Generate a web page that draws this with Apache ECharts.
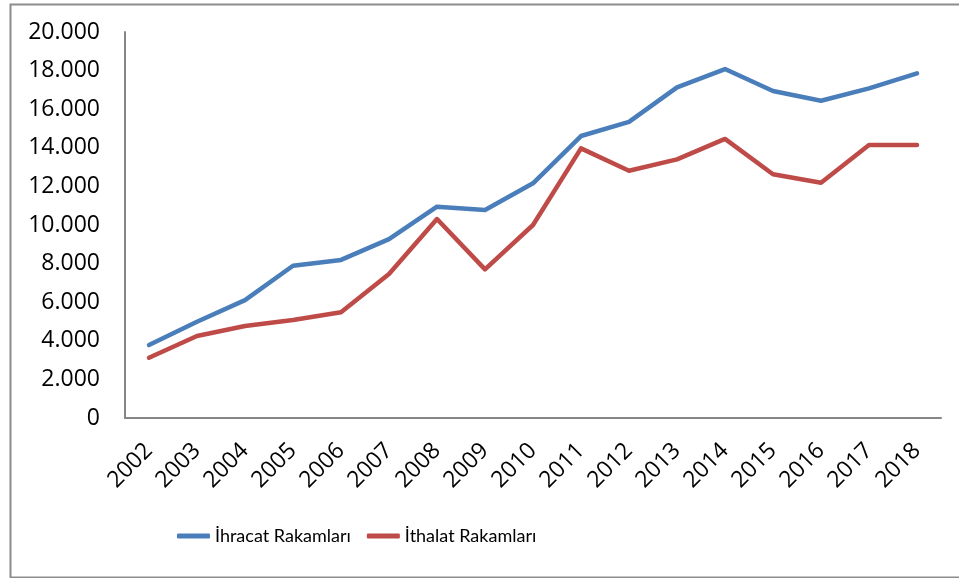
<!DOCTYPE html>
<html>
<head>
<meta charset="utf-8">
<script src="https://cdn.jsdelivr.net/npm/echarts@6/dist/echarts.min.js"></script>
<style>
  html, body { margin: 0; padding: 0; background: #fff; }
  #chart { width: 959px; height: 578px; }
</style>
</head>
<body>
<div id="chart"></div>
<script>
// Years on the category axis
const years = ['2002', '2003', '2004', '2005', '2006', '2007', '2008', '2009', '2010',
               '2011', '2012', '2013', '2014', '2015', '2016', '2017', '2018'];

// Export figures
const ihracat = [3780, 4990, 6110, 7890, 8190, 9270, 10950, 10780, 12160,
                 14610, 15340, 17130, 18080, 16940, 16440, 17080, 17860];

// Import figures
const ithalat = [3120, 4250, 4770, 5080, 5480, 7460, 10310, 7700, 10000,
                 13970, 12810, 13400, 14460, 12630, 12190, 14150, 14150];

// Value axis ticks
const yTicks = { min: 0, max: 20000, step: 2000 };

const seriesNames = ['İhracat Rakamları', 'İthalat Rakamları'];
const colors = ['#4a7ebb', '#be4b48'];

// Thousands separated with a dot
function fmt(v) {
  return String(v).replace(/\B(?=(\d{3})+(?!\d))/g, '.');
}

const chart = echarts.init(document.getElementById('chart'), null, { renderer: 'canvas' });

chart.setOption({
  animation: false,
  backgroundColor: '#ffffff',
  graphic: [{
    type: 'rect',
    left: 8, top: 2,
    shape: { width: 960, height: 573 },
    style: { fill: 'none', stroke: '#8c8c8c', lineWidth: 2 },
    z: -1
  }],
  grid: { left: 125, right: 18, top: 32, bottom: 160, containLabel: false },
  legend: {
    left: 177,
    top: 527,
    padding: 0,
    itemGap: 16,
    itemWidth: 33,
    itemHeight: 5,
    icon: 'roundRect',
    data: seriesNames,
    textStyle: {
      fontFamily: 'Lato, "Open Sans", sans-serif',
      fontSize: 18,
      color: '#000'
    }
  },
  xAxis: {
    type: 'category',
    data: years,
    boundaryGap: true,
    axisLine: { show: true, lineStyle: { color: '#868686', width: 2 } },
    axisTick: { show: false },
    axisLabel: {
      rotate: 45,
      margin: 29,
      interval: 0,
      color: '#000',
      fontFamily: '"Open Sans", sans-serif',
      fontSize: 23
    },
    splitLine: { show: false }
  },
  yAxis: {
    type: 'value',
    min: yTicks.min,
    max: yTicks.max,
    interval: yTicks.step,
    axisLine: { show: true, lineStyle: { color: '#868686', width: 2 } },
    axisTick: { show: false },
    splitLine: { show: false },
    axisLabel: {
      margin: 25,
      color: '#000',
      fontFamily: '"Open Sans", sans-serif',
      fontSize: 23,
      formatter: fmt
    }
  },
  series: [
    {
      name: seriesNames[0],
      type: 'line',
      data: ihracat,
      symbol: 'none',
      color: colors[0],
      lineStyle: { width: 4.5, color: colors[0], cap: 'round', join: 'round' }
    },
    {
      name: seriesNames[1],
      type: 'line',
      data: ithalat,
      symbol: 'none',
      color: colors[1],
      lineStyle: { width: 4.5, color: colors[1], cap: 'round', join: 'round' }
    }
  ]
});
</script>
</body>
</html>
